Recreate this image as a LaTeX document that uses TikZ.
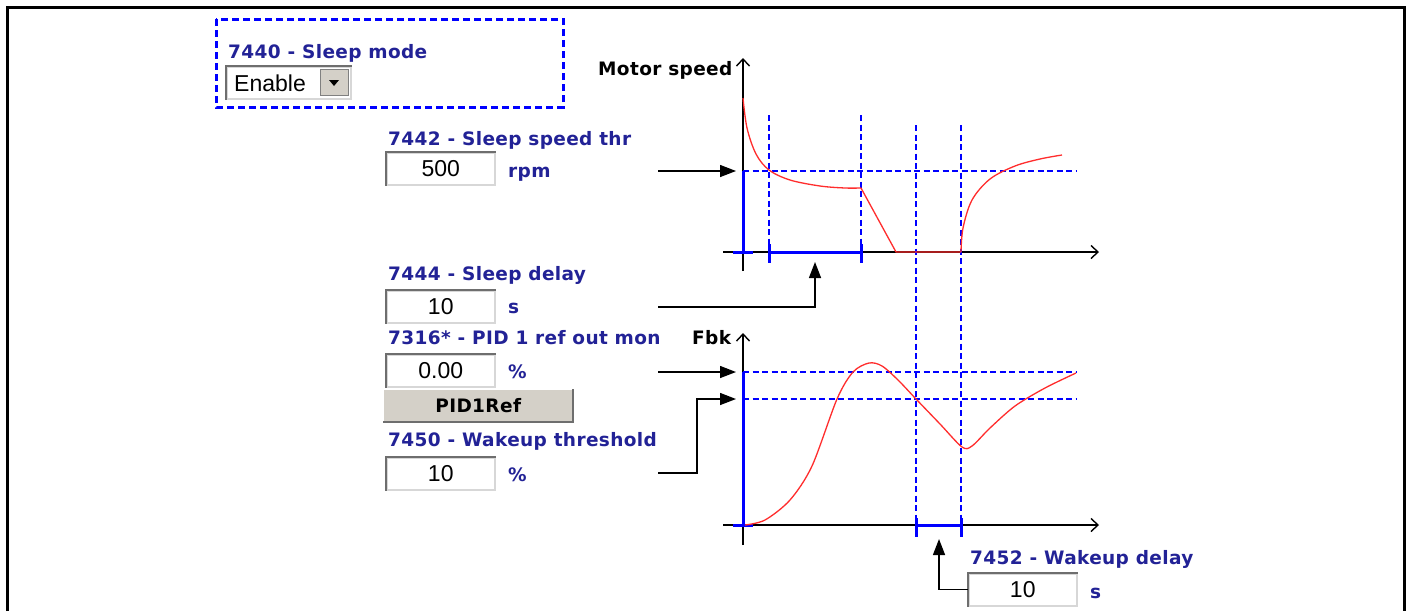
\documentclass[tikz,border=0pt]{standalone}
\usepackage{fontspec}
\setmainfont{DejaVu Sans}
\newfontfamily\arialf{Liberation Sans}
\newfontfamily\lblfont[LetterSpace=2]{DejaVu Sans}
\usetikzlibrary{arrows.meta}
\definecolor{lbl}{RGB}{34,34,150}
\definecolor{btn}{RGB}{212,208,200}
\definecolor{dblue}{RGB}{0,0,255}
\definecolor{curvec}{RGB}{255,45,45}
\definecolor{sunk}{RGB}{110,110,110}
\definecolor{lite}{RGB}{215,215,215}
\begin{document}
\begin{tikzpicture}[x=1pt,y=-1pt,
  lab/.style={anchor=base west,inner sep=0pt,font=\lblfont\fontsize{18.5}{20}\selectfont\bfseries,text=lbl},
  blab/.style={anchor=base west,inner sep=0pt,font=\lblfont\fontsize{18.5}{20}\selectfont\bfseries,text=black},
  tbox/.style={anchor=north west,draw=lite,line width=1.5pt,fill=white,inner sep=0pt,
    minimum width=108pt,minimum height=32pt,font=\arialf\fontsize{23}{24}\selectfont},
  axis/.style={line width=1.4pt,-{Straight Barb[length=7pt,width=13pt]}},
  conn/.style={line width=1.4pt,-{Triangle[length=16pt,width=12pt]}},
  dline/.style={dblue,line width=2.8pt,dash pattern=on 6pt off 3.5pt},
  sline/.style={dblue,line width=3pt},
  crv/.style={curvec,line width=1.3pt},
  frame/.style={line width=3pt},
]
\useasboundingbox (0,0) rectangle (1407,611);
\fill[white] (0,0) rectangle (1407,611);
% outer frame
\draw[frame] (7,611) -- (7,7) -- (1404,7) -- (1404,611);

% sleep mode group
\draw[dblue,line width=3pt,dash pattern=on 7pt off 4pt] (216,19) rectangle (563,107);
\node[lab] (smlab) at (228,58) {7440 - Sleep mode};
\node[anchor=north west,draw=lite,line width=1.5pt,fill=white,inner sep=0pt,minimum width=124pt,minimum height=32pt] (cmb) at (226,66) {};
\draw[sunk,line width=2pt] (cmb.south west) -- (cmb.north west) -- (cmb.north east);
\node[anchor=base west,inner sep=0pt,font=\arialf\fontsize{23}{24}\selectfont] (enable) at (234,91) {Enable};
\node[anchor=north west,fill=btn,draw=gray,line width=1pt,inner sep=0pt,minimum width=28pt,minimum height=26pt] (cmbbtn) at (320,69) {};
\fill (329,80) -- (339,80) -- (334,86) -- cycle;

% labels and boxes
\node[blab] (mslab) at (598,75) {Motor speed};
\node[lab] (sstlab) at (388,145) {7442 - Sleep speed thr};
\node[tbox] (b500) at (386,152) {500};
\draw[sunk,line width=2pt] (b500.south west) -- (b500.north west) -- (b500.north east);
\node[lab] (rpm) at (508,177) {rpm};

\node[lab] (sdlab) at (388,280) {7444 - Sleep delay};
\node[tbox] (bsd) at (386,290) {10};
\draw[sunk,line width=2pt] (bsd.south west) -- (bsd.north west) -- (bsd.north east);
\node[lab] (sunit) at (508,313) {s};

\node[lab] (pidlab) at (388,344) {7316* - PID 1 ref out mon};
\node[blab] (fbklab) at (692,344) {Fbk};
\node[tbox] (bref) at (386,354) {0.00};
\draw[sunk,line width=2pt] (bref.south west) -- (bref.north west) -- (bref.north east);
\node[lab] (pct1) at (508,378) {\%};

\node[anchor=north west,fill=btn,inner sep=0pt,minimum width=190pt,minimum height=33pt,
  font=\lblfont\fontsize{18.5}{20}\selectfont\bfseries] (pidbtn) at (383,389) {PID1Ref};
\draw[white,line width=1.5pt] (pidbtn.south west) -- (pidbtn.north west) -- (pidbtn.north east);
\draw[sunk,line width=2pt] (pidbtn.south west) -- (pidbtn.south east) -- (pidbtn.north east);

\node[lab] (wtlab) at (388,446) {7450 - Wakeup threshold};
\node[tbox] (bwt) at (386,457) {10};
\draw[sunk,line width=2pt] (bwt.south west) -- (bwt.north west) -- (bwt.north east);
\node[lab] (pct2) at (508,481) {\%};

\node[lab] (wdlab) at (970,564) {7452 - Wakeup delay};
\node[tbox] (bwd) at (968,573) {10};
\draw[sunk,line width=2pt] (bwd.south west) -- (bwd.north west) -- (bwd.north east);
\node[lab] (sunit2) at (1090,598) {s};

% ---------- motor speed chart ----------
\coordinate (msYb) at (743,271);
\coordinate (msYt) at (743,58);
\coordinate (msXl) at (723,252);
\coordinate (msXr) at (1099,252);
\draw[axis] (msYb) -- (msYt);
\draw[axis] (msXl) -- (msXr);

\draw[dline] (743,171) -- (1077,171);
\draw[dline] (769,115) -- (769,250);
\draw[dline] (861,115) -- (861,250);
\draw[dline] (916,125) -- (916,523);
\draw[dline] (961,125) -- (961,523);
\draw[sline] (743,171) -- (743,252);
\draw[sline] (733,252) -- (753,252);
\draw[sline] (769,252) -- (861,252);
\draw[sline] (769,244) -- (769,263);
\draw[sline] (861,244) -- (861,263);

\draw[crv] plot[smooth,tension=0.55] coordinates {(743,98) (747,128) (756,154) (769,170) (790,180) (820,186) (845,188) (861,188)};
\draw[crv] (861,188) -- (896,252) -- (961,252);
\draw[crv] plot[smooth,tension=0.55] coordinates {(961,252) (963,228) (972,200) (990,179) (1015,166) (1040,159) (1062,155)};

% ---------- fbk chart ----------
\coordinate (fbYb) at (743,545);
\coordinate (fbYt) at (743,333);
\coordinate (fbXl) at (723,525);
\coordinate (fbXr) at (1099,525);
\draw[axis] (fbYb) -- (fbYt);
\draw[axis] (fbXl) -- (fbXr);

\draw[dline] (743,372) -- (1077,372);
\draw[dline] (743,399) -- (1077,399);
\draw[sline] (743,372) -- (743,525);
\draw[sline] (733,525) -- (753,525);
\draw[sline] (916,525) -- (961,525);
\draw[sline] (916,518) -- (916,537);
\draw[sline] (961,518) -- (961,537);

\draw[crv] plot[smooth,tension=0.5] coordinates {(745,525) (765,520) (790,500) (812,466) (837,399) (853,372) (869,363) (882,366) (898,380) (916,399) (940,424) (962,447) (972,446) (990,428) (1015,406) (1045,388) (1076,373)};

% ---------- connectors ----------
\coordinate (spdIn) at (658,171);
\coordinate (spdTip) at (736,171);
\draw[conn] (spdIn) -- (spdTip);

\coordinate (sdIn) at (658,307);
\coordinate (sdTip) at (815,262);
\draw[conn] (sdIn) -| (sdTip);

\coordinate (refIn) at (658,372);
\coordinate (refTip) at (736,372);
\draw[conn] (refIn) -- (refTip);

\coordinate (wtIn) at (658,473);
\coordinate (wtBend) at (697,473);
\coordinate (wtTip) at (736,399);
\draw[conn] (wtIn) -- (wtBend) |- (wtTip);

\coordinate (wdTip) at (939,539);
\draw[conn] (bwd.west) -| (wdTip);
\end{tikzpicture}
\end{document}
